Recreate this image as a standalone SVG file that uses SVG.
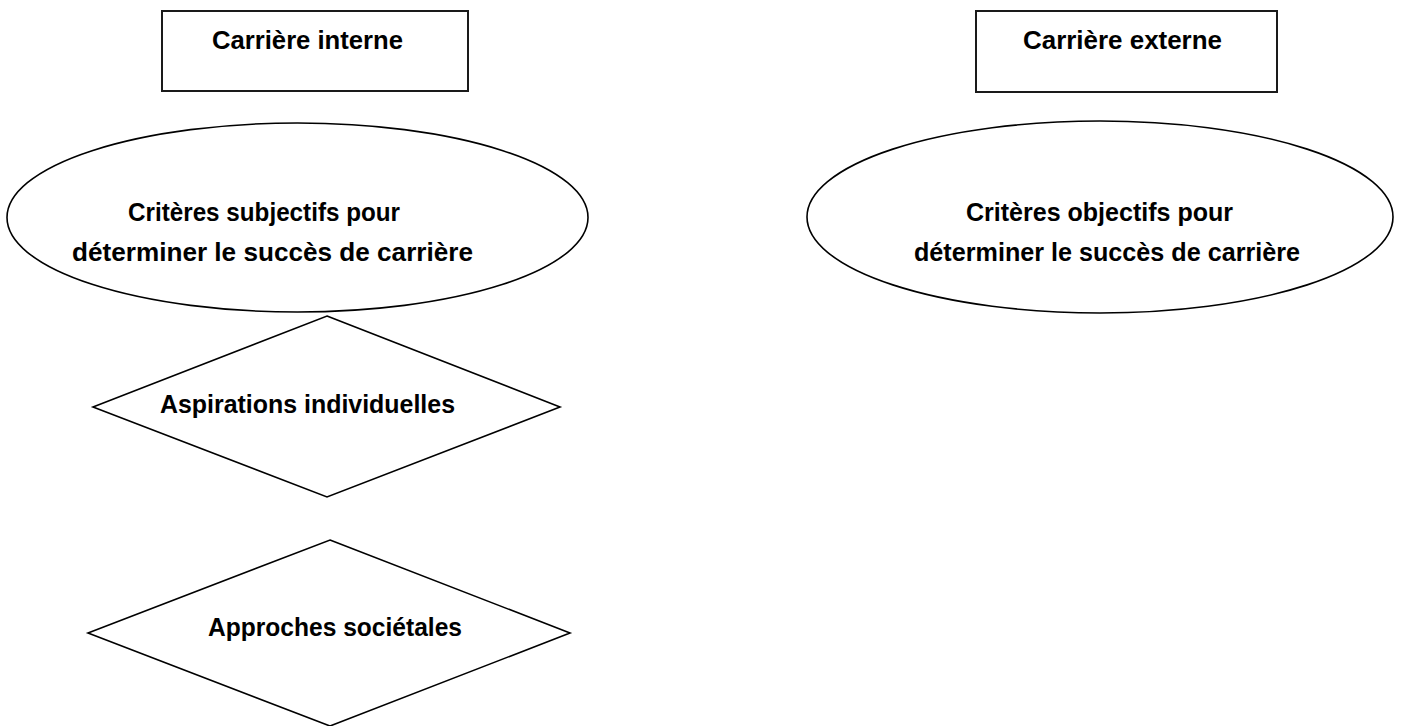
<svg xmlns="http://www.w3.org/2000/svg" width="1401" height="726" viewBox="0 0 1401 726">
  <style>
    .shape { fill: #ffffff; stroke: #000000; stroke-width: 1.6; }
    .box { fill: #ffffff; stroke: #1a1a1a; stroke-width: 2; }
    .label { font-family: "Liberation Sans", Arial, sans-serif; font-weight: bold; font-size: 26px; fill: #000000; }
  </style>
  <rect width="1401" height="726" fill="#ffffff"/>

  <!-- connectors (none drawn between the shapes) -->
  <g id="connectors"></g>

  <g id="carriere-interne">
    <rect class="box" x="162" y="11" width="306" height="80"/>
    <text class="label" x="212" y="49" textLength="191" lengthAdjust="spacingAndGlyphs">Carrière interne</text>
  </g>

  <g id="carriere-externe">
    <rect class="box" x="976" y="11" width="301" height="81"/>
    <text class="label" x="1023" y="49" textLength="199" lengthAdjust="spacingAndGlyphs">Carrière externe</text>
  </g>

  <g id="criteres-subjectifs">
    <ellipse class="shape" cx="297.5" cy="217.5" rx="290.5" ry="94.5"/>
    <text class="label" x="128" y="221" textLength="272" lengthAdjust="spacingAndGlyphs">Critères subjectifs pour</text>
    <text class="label" x="72" y="261" textLength="401" lengthAdjust="spacingAndGlyphs">déterminer le succès de carrière</text>
  </g>

  <g id="criteres-objectifs">
    <ellipse class="shape" cx="1100" cy="217" rx="293" ry="96"/>
    <text class="label" x="966" y="221" textLength="267" lengthAdjust="spacingAndGlyphs">Critères objectifs pour</text>
    <text class="label" x="914" y="261" textLength="386" lengthAdjust="spacingAndGlyphs">déterminer le succès de carrière</text>
  </g>

  <g id="aspirations-individuelles">
    <polygon class="shape" points="327,316 560,407 327,497 93,407"/>
    <text class="label" x="160" y="413" textLength="295" lengthAdjust="spacingAndGlyphs">Aspirations individuelles</text>
  </g>

  <g id="approches-societales">
    <polygon class="shape" points="330,540 570,633 330,726 88,633"/>
    <text class="label" x="208" y="636" textLength="254" lengthAdjust="spacingAndGlyphs">Approches sociétales</text>
  </g>
</svg>
